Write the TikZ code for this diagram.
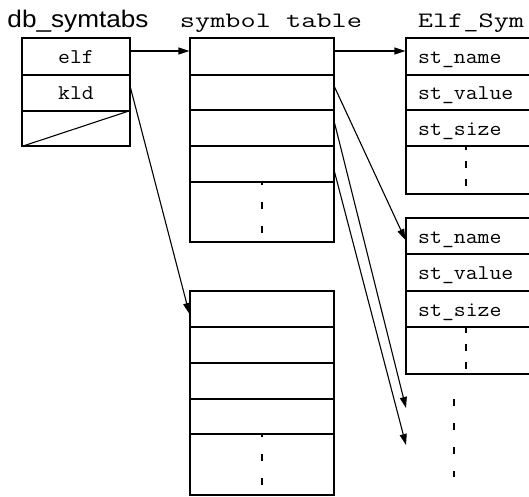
\documentclass[tikz,border=0pt]{standalone}
\usepackage{fontspec}
\usepackage{graphicx}
\usetikzlibrary{arrows.meta}
\newfontfamily\sansf{Liberation Sans}
\newcommand\myhsc[1]{\scalebox{1.34}[1]{#1}}
\newcommand\mycsc[1]{\scalebox{1.1}[1]{#1}}
\newcommand\mydsc[1]{\scalebox{1.09}[1]{#1}}
\tikzset{
  cellbox/.style={draw, line width=1.1pt, inner sep=0pt, rectangle},
  celltext/.style={font=\ttfamily\fontsize{21}{21}\selectfont, inner sep=0pt},
  headmono/.style={font=\ttfamily\fontsize{22}{22}\selectfont, inner sep=0pt, anchor=base},
  headsans/.style={font=\sansf\fontsize{24}{24}\selectfont, inner sep=0pt, anchor=base},
  ptr/.style={line width=1.1pt, -{Triangle[length=11pt,width=7pt]}},
  longdash/.style={line width=1.1pt, dash pattern=on 7pt off 17pt},
  shortdash/.style={line width=1.1pt, dash pattern=on 7pt off 11pt}
}
\begin{document}
\begin{tikzpicture}[x=1pt,y=-1pt]
\clip (0,0) rectangle (529,496);
\fill[white] (0,0) rectangle (529,496);
% headings
\node[headsans] (hdb) at (78,27) {\mydsc{db\_symtabs}};
\node[headmono] (hst) at (271,27) {\myhsc{symbol table}};
\node[headmono] (hes) at (471,27) {\myhsc{Elf\_Sym}};
% db_symtabs
\node[cellbox, minimum width=108pt, minimum height=37pt] (dbelf) at (76,56.5) {};
\node[cellbox, minimum width=108pt, minimum height=36pt] (dbkld) at (76,93) {};
\node[cellbox, minimum width=108pt, minimum height=35pt] (dbnull) at (76,128.5) {};
\draw[line width=1.1pt] (dbnull.south west) -- (dbnull.north east);
\node[celltext, anchor=base] (telf) at (76,63.5) {\mycsc{elf}};
\node[celltext, anchor=base] (tkld) at (76,99.5) {\mycsc{kld}};
% symbol table
\node[cellbox, minimum width=144pt, minimum height=37pt] (st1) at (262,56.5) {};
\node[cellbox, minimum width=144pt, minimum height=35pt] (st2) at (262,92.5) {};
\node[cellbox, minimum width=144pt, minimum height=36pt] (st3) at (262,128) {};
\node[cellbox, minimum width=144pt, minimum height=36pt] (st4) at (262,164) {};
\node[cellbox, minimum width=144pt, minimum height=60pt] (st5) at (262,212) {};
\draw[longdash, dash phase=3pt] (st5.north) -- (st5.south);
% lower table
\node[cellbox, minimum width=144pt, minimum height=36pt] (lt1) at (262,309) {};
\node[cellbox, minimum width=144pt, minimum height=36pt] (lt2) at (262,345) {};
\node[cellbox, minimum width=144pt, minimum height=36pt] (lt3) at (262,381) {};
\node[cellbox, minimum width=144pt, minimum height=35pt] (lt4) at (262,416.5) {};
\node[cellbox, minimum width=144pt, minimum height=61pt] (lt5) at (262,464.5) {};
\draw[longdash, dash phase=3pt] (lt5.north) -- (lt5.south);
% Elf_Sym 1
\node[cellbox, minimum width=134pt, minimum height=37pt] (ea1) at (473,56.5) {};
\node[cellbox, minimum width=134pt, minimum height=35pt] (ea2) at (473,92.5) {};
\node[cellbox, minimum width=134pt, minimum height=36pt] (ea3) at (473,128) {};
\node[cellbox, minimum width=134pt, minimum height=48pt] (ea4) at (473,170) {};
\draw[shortdash, dash phase=2pt] (ea4.north -| 466,0) -- (ea4.south -| 466,0);
\node[celltext, anchor=base west] (ta1) at (418,63.5) {\mycsc{st\_name}};
\node[celltext, anchor=base west] (ta2) at (418,99.5) {\mycsc{st\_value}};
\node[celltext, anchor=base west] (ta3) at (418,135.5) {\mycsc{st\_size}};
% Elf_Sym 2
\node[cellbox, minimum width=134pt, minimum height=36pt] (eb1) at (473,236) {};
\node[cellbox, minimum width=134pt, minimum height=37pt] (eb2) at (473,272.5) {};
\node[cellbox, minimum width=134pt, minimum height=36pt] (eb3) at (473,309) {};
\node[cellbox, minimum width=134pt, minimum height=47pt] (eb4) at (473,350.5) {};
\draw[shortdash, dash phase=0pt] (eb4.north -| 466,0) -- (eb4.south -| 466,0);
\node[celltext, anchor=base west] (tb1) at (418,243) {\mycsc{st\_name}};
\node[celltext, anchor=base west] (tb2) at (418,279.5) {\mycsc{st\_value}};
\node[celltext, anchor=base west] (tb3) at (418,316) {\mycsc{st\_size}};
% free ellipsis
\coordinate (m1) at (454,399);
\coordinate (m2) at (454,477);
\draw[longdash] (m1) -- (m2);
% free arrow ends
\coordinate (e1) at (406,408);
\coordinate (e2) at (406,445);
% arrows
\draw[ptr] ([yshift=5.5pt]dbelf.east) -- ([yshift=5.5pt]st1.west);
\draw[ptr] ([yshift=5.5pt]st1.east) -- ([yshift=5.5pt]ea1.west);
\draw[ptr] ([yshift=5pt]dbkld.east) -- ([yshift=-5pt]lt1.west);
\draw[ptr] ([yshift=5.5pt]st2.east) -- ([yshift=-4pt]eb1.west);
\draw[ptr] ([yshift=5pt]st3.east) -- (e1);
\draw[ptr] ([yshift=-8pt]st4.east) -- (e2);
\end{tikzpicture}
\end{document}
